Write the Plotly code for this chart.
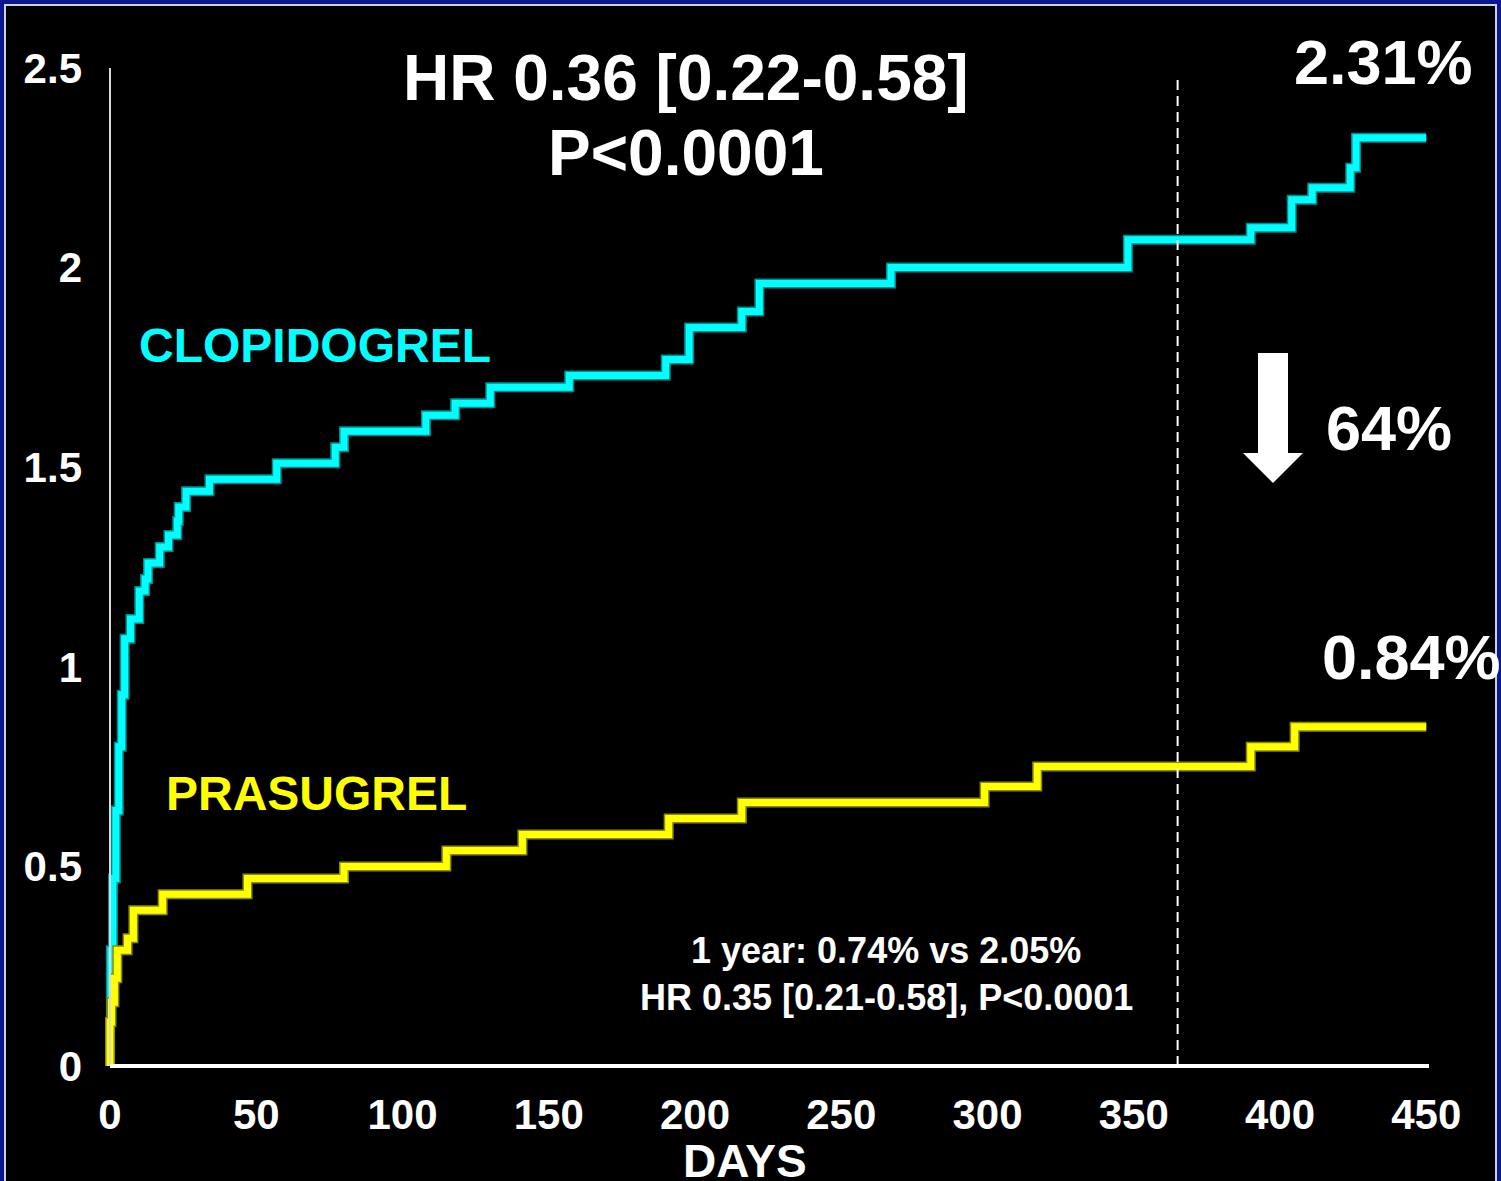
import plotly.graph_objects as go

# ---------------- data ----------------
clop_days = [0, 0, 0.3, 1, 2, 3, 4, 5, 7, 10, 12, 13, 17, 20, 23, 23.5, 26, 34, 57, 77, 80,
             108, 118, 130, 157, 190, 198, 216, 222, 267, 348, 390, 404, 411, 424, 426, 450]
clop_vals = [0, 0.11, 0.29, 0.47, 0.64, 0.80, 0.93, 1.07, 1.12, 1.19, 1.22, 1.26, 1.30, 1.33,
             1.365, 1.40, 1.44, 1.47, 1.51, 1.55, 1.59, 1.63, 1.66, 1.70, 1.73, 1.77, 1.85,
             1.89, 1.96, 2.00, 2.07, 2.10, 2.17, 2.20, 2.25, 2.325, 2.325]

pras_days = [0, 0, 0.5, 1.5, 2.5, 6, 8, 18, 47, 80, 115, 141, 191, 216, 299, 317, 390, 405, 450]
pras_vals = [0, 0.11, 0.16, 0.22, 0.29, 0.32, 0.39, 0.43, 0.47, 0.50, 0.54, 0.58, 0.62, 0.66,
             0.70, 0.75, 0.80, 0.85, 0.85]

x_ticks = [0, 50, 100, 150, 200, 250, 300, 350, 400, 450]
x_tick_labels = ["0", "50", "100", "150", "200", "250", "300", "350", "400", "450"]
y_ticks = [0, 0.5, 1, 1.5, 2, 2.5]
y_tick_labels = ["0", "0.5", "1", "1.5", "2", "2.5"]

one_year = 365

# ---------------- layout geometry ----------------
W, H = 1501, 1181
L, R, T, B = 101, 72, 68, 110
PW = W - L - R
PH = H - T - B
X_PER_DAY = 2.925
XMIN = -(110 - L) / X_PER_DAY
XMAX = XMIN + PW / X_PER_DAY
Y_PER_UNIT = 399.2
YMAX = 2.5
YMIN = YMAX - PH / Y_PER_UNIT


def pxx(p):
    return (p - L) / PW


def pxy(p):
    return (H - B - p) / PH


FONT = "Liberation Sans, Arial, sans-serif"
CYAN = "#00ffff"
YELLOW = "#ffff00"
BLUE = "#0a1890"

fig = go.Figure()

# shadow (outline) traces then main traces
fig.add_trace(go.Scatter(x=clop_days, y=clop_vals, mode="lines", line_shape="hv",
                         line=dict(color="#008c8c", width=10), hoverinfo="skip", showlegend=False))
fig.add_trace(go.Scatter(x=clop_days, y=clop_vals, mode="lines", line_shape="hv",
                         line=dict(color=CYAN, width=7), name="CLOPIDOGREL", showlegend=False))
fig.add_trace(go.Scatter(x=pras_days, y=pras_vals, mode="lines", line_shape="hv",
                         line=dict(color="#8c8c00", width=10), hoverinfo="skip", showlegend=False))
fig.add_trace(go.Scatter(x=pras_days, y=pras_vals, mode="lines", line_shape="hv",
                         line=dict(color=YELLOW, width=7), name="PRASUGREL", showlegend=False))

shapes = [
    # black panel with thin light frame over the blue background
    dict(type="rect", xref="paper", yref="paper", layer="below",
         x0=pxx(5), x1=pxx(1496), y0=pxy(1200), y1=pxy(5),
         fillcolor="black", line=dict(color="#d0d0dc", width=2)),
    # y axis line
    dict(type="line", xref="x", yref="y", layer="above",
         x0=0, x1=0, y0=0, y1=2.5, line=dict(color="#d8d8d8", width=2)),
    # x axis line
    dict(type="line", xref="x", yref="y", layer="above",
         x0=0, x1=XMAX, y0=0, y1=0, line=dict(color="white", width=4)),
    # one-year dashed marker
    dict(type="line", xref="x", yref="y", layer="above",
         x0=one_year, x1=one_year, y0=0, y1=2.48,
         line=dict(color="white", width=2, dash="10px,6px")),
    # down arrow
    dict(type="path", xref="paper", yref="paper", layer="above",
         path=("M {a},{b} L {c},{b} L {c},{d} L {e},{d} L {f},{g} L {h},{d} L {a2},{d} Z".format(
             a=pxx(1258), b=pxy(353), c=pxx(1288), d=pxy(453), e=pxx(1303),
             f=pxx(1273), g=pxy(483), h=pxx(1243), a2=pxx(1258))),
         fillcolor="white", line=dict(color="white", width=0)),
]


def ann(text, x, y, size, color="white"):
    return dict(text=text, x=pxx(x), y=pxy(y), xref="paper", yref="paper",
                xanchor="center", yanchor="middle", showarrow=False,
                font=dict(family=FONT, size=size, color=color, weight="bold"))


annotations = [
    ann("HR 0.36 [0.22-0.58]", 686, 78, 64),
    ann("P&lt;0.0001", 686, 153, 64),
    ann("2.31%", 1383, 62, 63),
    ann("64%", 1389, 428, 63),
    ann("0.84%", 1411, 657, 63),
    ann("CLOPIDOGREL", 315, 345, 48, CYAN),
    ann("PRASUGREL", 316, 793, 48, YELLOW),
    ann("1 year: 0.74% vs 2.05%", 886, 950, 36),
    ann("HR 0.35 [0.21-0.58], P&lt;0.0001", 886, 997, 36),
    ann("DAYS", 745, 1161, 46),
]

fig.update_layout(
    width=W, height=H,
    margin=dict(l=L, r=R, t=T, b=B, pad=0),
    paper_bgcolor=BLUE,
    plot_bgcolor="rgba(0,0,0,0)",
    shapes=shapes,
    annotations=annotations,
    showlegend=False,
    xaxis=dict(range=[XMIN, XMAX], tickvals=x_ticks, ticktext=x_tick_labels,
               showgrid=False, zeroline=False, showline=False, ticks="",
               tickfont=dict(family=FONT, size=42, color="white", weight="bold"),
               ticklabelstandoff=15),
    yaxis=dict(range=[YMIN, YMAX], tickvals=y_ticks, ticktext=y_tick_labels,
               showgrid=False, zeroline=False, showline=False, ticks="",
               tickfont=dict(family=FONT, size=42, color="white", weight="bold"),
               ticklabelstandoff=18),
)

fig.write_html(
    "out.html",
    config={"displayModeBar": False},
    post_script=("document.body.style.margin='0';"
                 "document.body.style.overflow='hidden';"
                 "document.body.style.background='" + BLUE + "';"),
)
